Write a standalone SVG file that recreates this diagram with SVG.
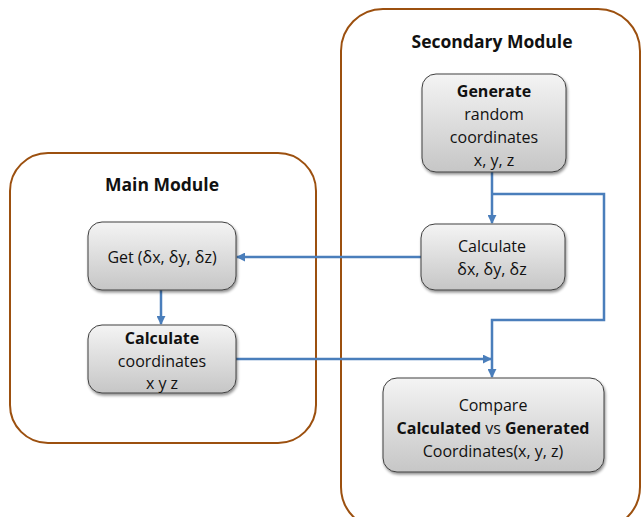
<svg xmlns="http://www.w3.org/2000/svg" width="643" height="517" viewBox="0 0 643 517">
<defs>
<linearGradient id="g" x1="0" y1="0" x2="0" y2="1">
<stop offset="0" stop-color="#f4f4f4"/>
<stop offset="1" stop-color="#c6c6c6"/>
</linearGradient>
<filter id="sh" x="-10%" y="-10%" width="125%" height="130%">
<feGaussianBlur in="SourceAlpha" stdDeviation="1.5"/>
<feOffset dx="1" dy="2" result="b"/>
<feComponentTransfer><feFuncA type="linear" slope="0.45"/></feComponentTransfer>
<feMerge><feMergeNode/><feMergeNode in="SourceGraphic"/></feMerge>
</filter>
<marker id="ah" markerWidth="9" markerHeight="9" viewBox="0 0 10 10" refX="9" refY="5" orient="auto" markerUnits="userSpaceOnUse">
<path d="M0,0 L10,5 L0,10 z" fill="#4a7ebb"/>
</marker>
</defs>
<style>
.mod{fill:#fff;stroke:#9c500f;stroke-width:2}
.box{fill:url(#g);stroke:#404040;stroke-width:1;filter:url(#sh)}
.t{font-family:"Open Sans","Liberation Sans",sans-serif;font-size:16px;fill:#111;text-anchor:middle}
.b{font-weight:bold}
.h{font-family:"Open Sans","Liberation Sans",sans-serif;font-size:17.5px;font-weight:bold;fill:#111;text-anchor:middle}
.c{fill:none;stroke:#4a7ebb;stroke-width:2.5}
</style>
<rect width="643" height="517" fill="#fff"/>
<g id="main-module">
<rect class="mod" x="10" y="153" width="306" height="290" rx="38"/>
<text class="h" x="162" y="191">Main Module</text>
</g>
<g id="secondary-module">
<rect class="mod" x="341" y="9" width="299" height="520" rx="42"/>
<text class="h" x="492" y="48">Secondary Module</text>
</g>
<g id="connectors">
<line class="c" x1="492" y1="172" x2="492" y2="223" marker-end="url(#ah)"/>
<polyline class="c" points="492,194 604,194 604,320 492,320 492,377" marker-end="url(#ah)"/>
<line class="c" x1="421" y1="257" x2="237" y2="257" marker-end="url(#ah)"/>
<line class="c" x1="161" y1="290" x2="161" y2="324" marker-end="url(#ah)"/>
<line class="c" x1="236" y1="359" x2="491" y2="359" marker-end="url(#ah)"/>
</g>
<g id="generate">
<rect class="box" x="422" y="74" width="144" height="98" rx="14"/>
<text class="t" x="494" y="97"><tspan class="b">Generate</tspan></text>
<text class="t" x="494" y="120">random</text>
<text class="t" x="494" y="143">coordinates</text>
<text class="t" x="494" y="166">x, y, z</text>
</g>
<g id="calculate-delta">
<rect class="box" x="421" y="224" width="144" height="66" rx="14"/>
<text class="t" x="492" y="252">Calculate</text>
<text class="t" x="492" y="275">δx, δy, δz</text>
</g>
<g id="get-delta">
<rect class="box" x="88" y="222" width="148" height="68" rx="14"/>
<text class="t" x="162" y="263">Get (δx, δy, δz)</text>
</g>
<g id="calculate-coordinates">
<rect class="box" x="88" y="325" width="148" height="68" rx="14"/>
<text class="t b" x="162" y="344">Calculate</text>
<text class="t" x="162" y="367">coordinates</text>
<text class="t" x="162" y="389">x y z</text>
</g>
<g id="compare">
<rect class="box" x="383" y="378" width="221" height="94" rx="14"/>
<text class="t" x="493" y="411">Compare</text>
<text class="t" x="493" y="434"><tspan class="b">Calculated</tspan> vs <tspan class="b">Generated</tspan></text>
<text class="t" x="493" y="457">Coordinates(x, y, z)</text>
</g>
</svg>
